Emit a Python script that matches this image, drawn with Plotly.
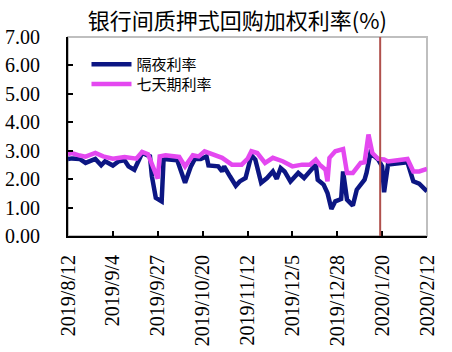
import plotly.graph_objects as go

# 七天期利率 (magenta)
d7_dates = ["2019-08-12","2019-08-14","2019-08-18","2019-08-21","2019-08-26","2019-08-30","2019-09-04",
            "2019-09-10","2019-09-16","2019-09-19","2019-09-22","2019-09-25","2019-09-27","2019-09-28",
            "2019-10-01","2019-10-08","2019-10-11","2019-10-15","2019-10-18","2019-10-21","2019-10-25",
            "2019-10-30","2019-11-04","2019-11-09","2019-11-12","2019-11-14","2019-11-17","2019-11-21",
            "2019-11-25","2019-11-30","2019-12-05","2019-12-10","2019-12-14","2019-12-17","2019-12-19",
            "2019-12-22","2019-12-23","2019-12-24","2019-12-27","2019-12-31","2020-01-02","2020-01-05",
            "2020-01-09","2020-01-11","2020-01-13","2020-01-15","2020-01-18","2020-01-21","2020-01-23",
            "2020-02-02","2020-02-05","2020-02-08","2020-02-12"]
d7_vals = [2.88,2.92,2.83,2.79,2.92,2.80,2.72,
           2.78,2.72,2.96,2.88,2.33,2.02,2.80,
           2.84,2.78,2.45,2.84,2.80,2.98,2.86,
           2.75,2.51,2.51,2.71,2.98,2.92,2.57,
           2.75,2.63,2.45,2.51,2.51,2.69,2.51,
           2.33,1.92,2.75,2.98,3.06,2.22,2.22,
           2.57,2.59,3.57,2.92,2.71,2.69,2.62,
           2.71,2.27,2.27,2.36]

# 隔夜利率 (navy)
on_dates = ["2019-08-12","2019-08-14","2019-08-18","2019-08-21","2019-08-26","2019-08-29","2019-08-31",
            "2019-09-04","2019-09-07","2019-09-10","2019-09-12","2019-09-15","2019-09-19","2019-09-23",
            "2019-09-24","2019-09-26","2019-09-29","2019-09-30","2019-10-07","2019-10-11","2019-10-14",
            "2019-10-16","2019-10-19","2019-10-22","2019-10-23","2019-10-28","2019-10-30","2019-10-31",
            "2019-11-03","2019-11-06","2019-11-08","2019-11-11","2019-11-14","2019-11-16","2019-11-19",
            "2019-11-22","2019-11-25","2019-11-27","2019-11-29","2019-12-01","2019-12-04","2019-12-08",
            "2019-12-11","2019-12-17","2019-12-18","2019-12-21","2019-12-23","2019-12-25","2019-12-27",
            "2019-12-30","2019-12-31","2020-01-02","2020-01-05","2020-01-07","2020-01-11","2020-01-12",
            "2020-01-14","2020-01-18","2020-01-20","2020-01-21","2020-01-23","2020-02-02","2020-02-05",
            "2020-02-08","2020-02-12"]
on_vals = [2.71,2.73,2.71,2.57,2.71,2.49,2.63,
           2.48,2.63,2.66,2.45,2.33,2.92,2.80,
           2.10,1.34,1.22,2.71,2.66,1.87,2.45,
           2.71,2.71,2.80,2.48,2.45,2.27,2.45,
           2.10,1.77,1.92,2.04,2.84,2.69,1.87,
           2.04,2.27,2.01,2.39,2.27,1.92,2.22,
           2.04,2.51,1.98,1.81,1.51,0.95,1.22,
           1.30,2.27,1.28,1.07,1.63,1.98,2.22,
           2.92,2.69,2.45,1.54,2.51,2.59,1.92,
           1.84,1.57]

y_ticks = [0, 1, 2, 3, 4, 5, 6, 7]
y_tick_text = ["0.00", "1.00", "2.00", "3.00", "4.00", "5.00", "6.00", "7.00"]
x_ticks = ["2019-08-12","2019-09-04","2019-09-27","2019-10-20","2019-11-12",
           "2019-12-05","2019-12-28","2020-01-20","2020-02-12"]
x_tick_text = ["2019/8/12","2019/9/4","2019/9/27","2019/10/20","2019/11/12",
               "2019/12/5","2019/12/28","2020/1/20","2020/2/12"]
marker_date = "2020-01-19"

title = "银行间质押式回购加权利率(%)"
name_on = "隔夜利率"
name_7d = "七天期利率"

fig = go.Figure()
fig.add_trace(go.Scatter(x=on_dates, y=on_vals, mode="lines", name=name_on, legend="legend",
                         line=dict(color="#0C1683", width=4.5)))
fig.add_trace(go.Scatter(x=d7_dates, y=d7_vals, mode="lines", name=name_7d, legend="legend2",
                         line=dict(color="#E448F0", width=4.5)))

fig.add_shape(type="rect", xref="paper", yref="paper", x0=0, x1=1, y0=0, y1=1,
              line=dict(color="#BFBFBF", width=2), layer="below")
fig.add_shape(type="line", xref="x", yref="paper", x0=marker_date, x1=marker_date, y0=0, y1=1,
              line=dict(color="#B0504C", width=2))

tick_font = dict(family="Liberation Serif, serif", size=20, color="#000000")
leg_font = dict(family="Noto Sans CJK SC", size=15, color="#000000")
fig.update_layout(
    width=452, height=352,
    margin=dict(l=68, r=25, t=37, b=116, autoexpand=False),
    paper_bgcolor="white", plot_bgcolor="white",
    title=dict(text=title, x=0.525, xref="container", y=0.94, yref="container",
               xanchor="center", yanchor="middle",
               font=dict(family="Noto Sans CJK SC", size=22, color="#000000")),
    showlegend=True,
    legend=dict(x=0.0515, y=0.945, xanchor="left", yanchor="top", bgcolor="rgba(0,0,0,0)",
                font=leg_font, itemwidth=40),
    legend2=dict(x=0.0515, y=0.845, xanchor="left", yanchor="top", bgcolor="rgba(0,0,0,0)",
                 font=leg_font, itemwidth=40),
    xaxis=dict(type="date", range=["2019-08-12", "2020-02-12"], automargin=False,
               tickmode="array", tickvals=x_ticks, ticktext=x_tick_text, tickangle=-90,
               ticks="inside", ticklen=5, tickwidth=1.5, tickcolor="#000000",
               showline=True, linecolor="#000000", linewidth=2, showgrid=False, zeroline=False,
               tickfont=tick_font, ticklabelstandoff=9),
    yaxis=dict(range=[0, 7], tickmode="array", tickvals=y_ticks, ticktext=y_tick_text,
               automargin=False,
               ticks="inside", ticklen=5, tickwidth=1.5, tickcolor="#000000",
               showline=True, linecolor="#000000", linewidth=2, showgrid=False, zeroline=False,
               tickfont=tick_font, ticklabelstandoff=22),
)

fig.write_html("out.html")
